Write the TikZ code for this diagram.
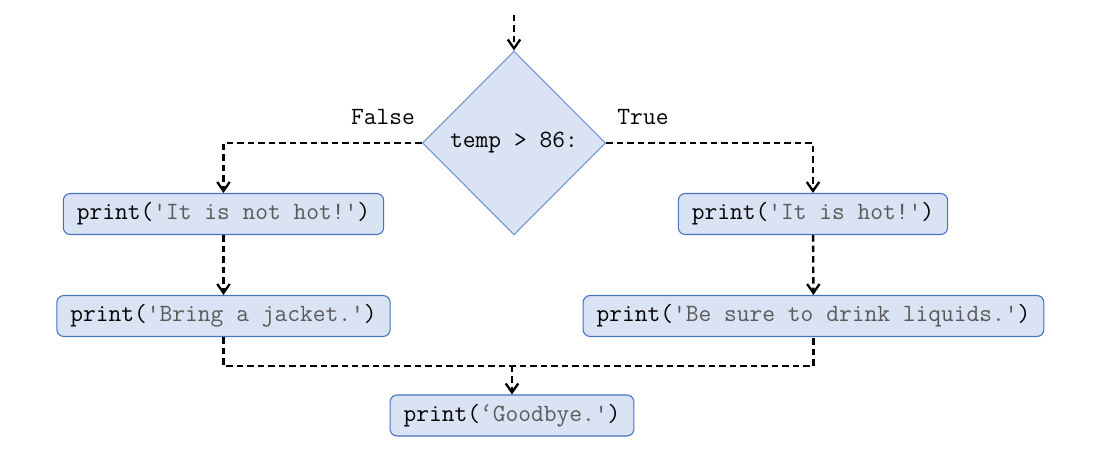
\documentclass[tikz,border=0pt]{standalone}
\usepackage{fontspec}
\setmonofont{lmmono12-regular}[Extension=.otf]
\usepackage{tikz}
\usetikzlibrary{arrows.meta,shapes.geometric}
\definecolor{boxfill}{HTML}{DAE3F3}
\definecolor{boxline}{HTML}{4472C4}
\definecolor{condline}{HTML}{6F94D6}
\definecolor{strgray}{HTML}{595959}
\newcommand{\pystr}[1]{\textcolor{strgray}{#1}}

\begin{document}
\begin{tikzpicture}[
    x=0.02cm, y=-0.02cm,
    font=\ttfamily\fontsize{14.1}{16}\selectfont,
    stmt/.style={rectangle,rounded corners=4pt,draw=boxline,line width=0.6pt,fill=boxfill,
                 minimum height=0.82cm,inner xsep=0.27cm,inner ysep=0pt},
    cond/.style={diamond,draw=condline,line width=0.6pt,fill=boxfill,
                 minimum width=3.66cm,minimum height=3.68cm,inner sep=0pt},
    flow/.style={line width=1.35pt,dash pattern=on 0.13cm off 0.08cm,
                 -{Straight Barb[length=0.18cm,width=0.25cm,line width=1.3pt]}},
    joint/.style={line width=1.35pt,dash pattern=on 0.13cm off 0.08cm}
]
    \useasboundingbox (0,0) rectangle (1093,449);

    % Decision
    \coordinate (start) at (514,15);
    \node[cond] (temp) at (514,143) {temp > 86:};
    \node (false) at (383,117) {False};
    \node (true)  at (643,117) {True};

    % Statements
    \node[stmt] (nothot) at (223.5,214) {print(\pystr{'It is not hot!'})};
    \node[stmt] (jacket) at (223.5,316) {print(\pystr{'Bring a jacket.'})};
    \node[stmt] (hot)    at (813,214)   {print(\pystr{'It is hot!'})};
    \node[stmt] (drink)  at (813.5,316) {print(\pystr{'Be sure to drink liquids.'})};
    \node[stmt] (bye)    at (512,415.5) {print(\pystr{‘Goodbye.'})};
    \coordinate (merge) at (512,366);

    % Flow
    \draw[flow] (start) -- (temp.north);
    \draw[flow] (temp.west) -| (nothot.north);
    \draw[flow] (temp.east) -| (hot.north);
    \draw[flow] (nothot) -- (jacket);
    \draw[flow] (hot) -- (drink);
    \draw[joint] (jacket.south) |- (merge) -| (drink.south);
    \draw[flow] (merge) -- (bye);
\end{tikzpicture}
\end{document}
